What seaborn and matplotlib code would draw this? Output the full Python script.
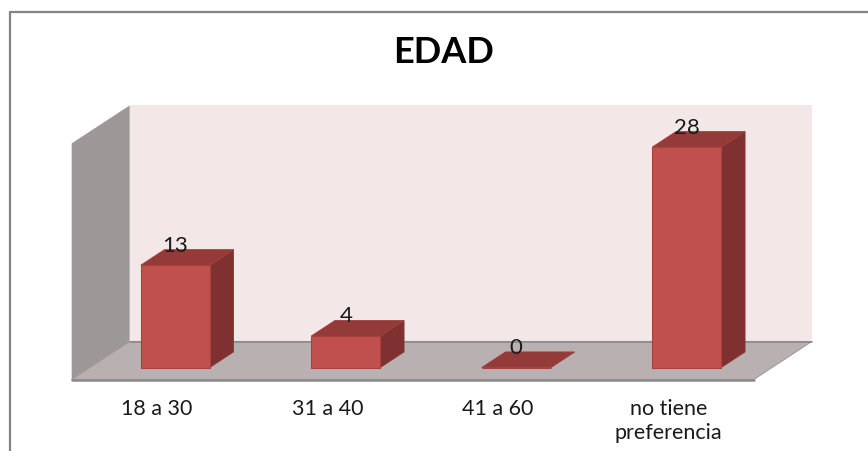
import matplotlib
matplotlib.use("Agg")
import matplotlib.pyplot as plt
import pandas as pd
import seaborn as sns
from matplotlib.patches import Polygon
from matplotlib.lines import Line2D

# ---- data ----
titulo = "EDAD"
categorias = ["18 a 30", "31 a 40", "41 a 60", "no tiene\npreferencia"]
valores = [13, 4, 0, 28]
y_max = 30

df = pd.DataFrame({"edad": categorias, "n": valores})

sns.set_theme(style="white")
plt.rcParams["font.family"] = ["Lato", "DejaVu Sans"]

W, H, DPI = 868, 452, 100
fig = plt.figure(figsize=(W / DPI, H / DPI), dpi=DPI)
ax = fig.add_axes([0, 0, 1, 1])

# oblique projection: pixels per category / per value unit on the bar-front plane
PX_CAT = 170.5
PX_VAL = 7.87
X0_PX = 175.25
Y0_PX = 368.5
DX = 58 / PX_CAT      # full floor depth, in data units
DY = 38 / PX_VAL
S0, S1 = 0.316, 0.726  # bar front / back depth fractions

def P(x, v, s):
    """Point at category x, value v, depth s (0 = front, 1 = back)."""
    return (x + (s - S0) * DX, v + (s - S0) * DY)

n = len(categorias)
xl, xr = -0.5, n - 0.5

# back wall
ax.add_patch(Polygon([P(xl, 0, 1), P(xr, 0, 1), P(xr, y_max, 1), P(xl, y_max, 1)],
                     closed=True, facecolor="#F3E7E7", edgecolor="none", zorder=0.5))
# side wall
ax.add_patch(Polygon([P(xl, 0, 0), P(xl, y_max, 0), P(xl, y_max, 1), P(xl, 0, 1)],
                     closed=True, facecolor="#9D9797", edgecolor="none", zorder=0.6))
# floor
ax.add_patch(Polygon([P(xl, 0, 0), P(xr, 0, 0), P(xr, 0, 1), P(xl, 0, 1)],
                     closed=True, facecolor="#B9B1B1", edgecolor="#A09A9A",
                     linewidth=0.8, zorder=0.7))
ax.add_line(Line2D(*zip(P(xl, 0, 1), P(xr, 0, 1)), color="#8E8A8A", lw=1.2, zorder=0.8))
ax.add_line(Line2D(*zip(P(xl, 0, 0), P(xr, 0, 0)), color="#8A8A8A", lw=1.8, zorder=0.8))

# front faces of the bars
sns.barplot(data=df, x="edad", y="n", ax=ax, width=0.405, color="#C0504D",
            saturation=1, edgecolor="#A8423F", linewidth=0.8, zorder=3)

bars = [p for p in ax.patches if p.get_zorder() == 3]
for p, val in zip(bars, valores):
    x0, w, h = p.get_x(), p.get_width(), p.get_height()
    top = [P(x0, h, S0), P(x0 + w, h, S0), P(x0 + w, h, S1), P(x0, h, S1)]
    side = [P(x0 + w, 0, S0), P(x0 + w, h, S0), P(x0 + w, h, S1), P(x0 + w, 0, S1)]
    ax.add_patch(Polygon(side, closed=True, facecolor="#7E3130",
                         edgecolor="#8A3634", linewidth=0.6, zorder=2.9))
    ax.add_patch(Polygon(top, closed=True, facecolor="#943A38",
                         edgecolor="#A0403E", linewidth=0.6, zorder=2.95))
    _, ly = P(x0 + w / 2, h, S1)
    ax.text(x0 + w / 2, ly - 1.0 / PX_VAL, f"{val}", ha="center", va="baseline",
            fontsize=16, color="#1A1A1A", zorder=5)

# category labels along the floor front edge
for i, lab in enumerate(categorias):
    tx, ty = P(i, 0, 0)
    ax.text(tx, ty - 18 / PX_VAL, lab, ha="center", va="top", fontsize=15.5,
            color="#1A1A1A", linespacing=1.25)

ax.set_xlim(-X0_PX / PX_CAT, (W - X0_PX) / PX_CAT)
ax.set_ylim((Y0_PX - H) / PX_VAL, Y0_PX / PX_VAL)
ax.axis("off")

# chart frame
fig.add_artist(Line2D([10 / W, 1], [1 - 13 / H, 1 - 13 / H], transform=fig.transFigure,
                      color="#858585", lw=1.6))
fig.add_artist(Line2D([10 / W, 10 / W], [1 - 13 / H, 0], transform=fig.transFigure,
                      color="#858585", lw=1.6))

fig.text(444 / W, 1 - 52.5 / H, titulo, ha="center", va="center",
         fontsize=26, fontweight="bold", color="#000000")

fig.savefig("out.png", dpi=DPI)
